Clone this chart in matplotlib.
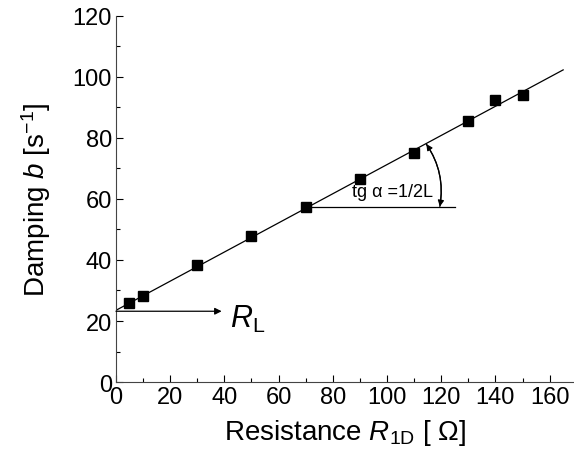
import matplotlib.pyplot as plt
import numpy as np
from matplotlib.patches import FancyArrowPatch

plt.rcParams['font.family'] = ['Liberation Sans', 'DejaVu Sans']
plt.rcParams['mathtext.fontset'] = 'custom'
plt.rcParams['mathtext.rm'] = 'Liberation Sans'
plt.rcParams['mathtext.it'] = 'Liberation Sans:italic'

# measured points
resistance = [5, 10, 30, 50, 70, 90, 110, 130, 140, 150]
damping = [25.8, 28.2, 38.5, 47.8, 57.5, 66.5, 75.2, 85.6, 92.3, 94.0]

# fitted line
fit_x = [0, 165]
fit_y = [23.5, 102.3]

fig = plt.figure(figsize=(5.74, 4.56), dpi=100)
ax = fig.add_axes([0.202, 0.160, 0.798, 0.803])

ax.plot(fit_x, fit_y, color='black', lw=0.9)
ax.plot(resistance, damping, 's', color='black', ms=6.5)

# slope triangle
ax.plot([70, 125], [57.5, 57.5], color='black', lw=0.9)
arc = FancyArrowPatch((114.5, 78), (119.5, 57.5), arrowstyle='-|>',
                      connectionstyle='arc3,rad=-0.2', mutation_scale=9,
                      color='black', lw=0.9, shrinkA=0, shrinkB=0)
ax.add_patch(arc)
arc2 = FancyArrowPatch((119.5, 57.5), (114.5, 78), arrowstyle='-|>',
                       connectionstyle='arc3,rad=0.2', mutation_scale=9,
                       color='black', lw=0.9, shrinkA=0, shrinkB=0)
ax.add_patch(arc2)
ax.text(87, 59.8, 'tg \u03b1 =1/2L', fontsize=13, ha='left', va='bottom')

# R_L arrow
ax.annotate('', xy=(39, 23.2), xytext=(0, 23.2),
            arrowprops=dict(arrowstyle='-|>', color='black', lw=0.9,
                            mutation_scale=10, shrinkA=0, shrinkB=0))
ax.text(42, 21, r'$\mathit{R}_{\mathrm{L}}$', fontsize=22, ha='left',
        va='center')

ax.set_xlim(0, 169)
ax.set_ylim(0, 120)
ax.set_xticks(np.arange(0, 161, 20))
ax.set_xticks(np.arange(0, 170, 10), minor=True)
ax.set_yticks(np.arange(0, 121, 20))
ax.set_yticks(np.arange(0, 121, 10), minor=True)
ax.tick_params(direction='in', labelsize=17, length=5, width=0.8, pad=3)
ax.tick_params(which='minor', direction='in', length=3, width=0.8)
ax.spines['top'].set_visible(False)
ax.spines['right'].set_visible(False)
for s in ['left', 'bottom']:
    ax.spines[s].set_linewidth(0.8)
    ax.spines[s].set_color('#444444')

ax.set_xlabel(r'Resistance $\mathit{R}_{\mathrm{1D}}$ [ $\Omega$]', fontsize=20, labelpad=6)
ax.set_ylabel(r'Damping $\mathit{b}$ [s$^{\mathrm{-1}}$]', fontsize=20, labelpad=14)

plt.savefig('out.png')
